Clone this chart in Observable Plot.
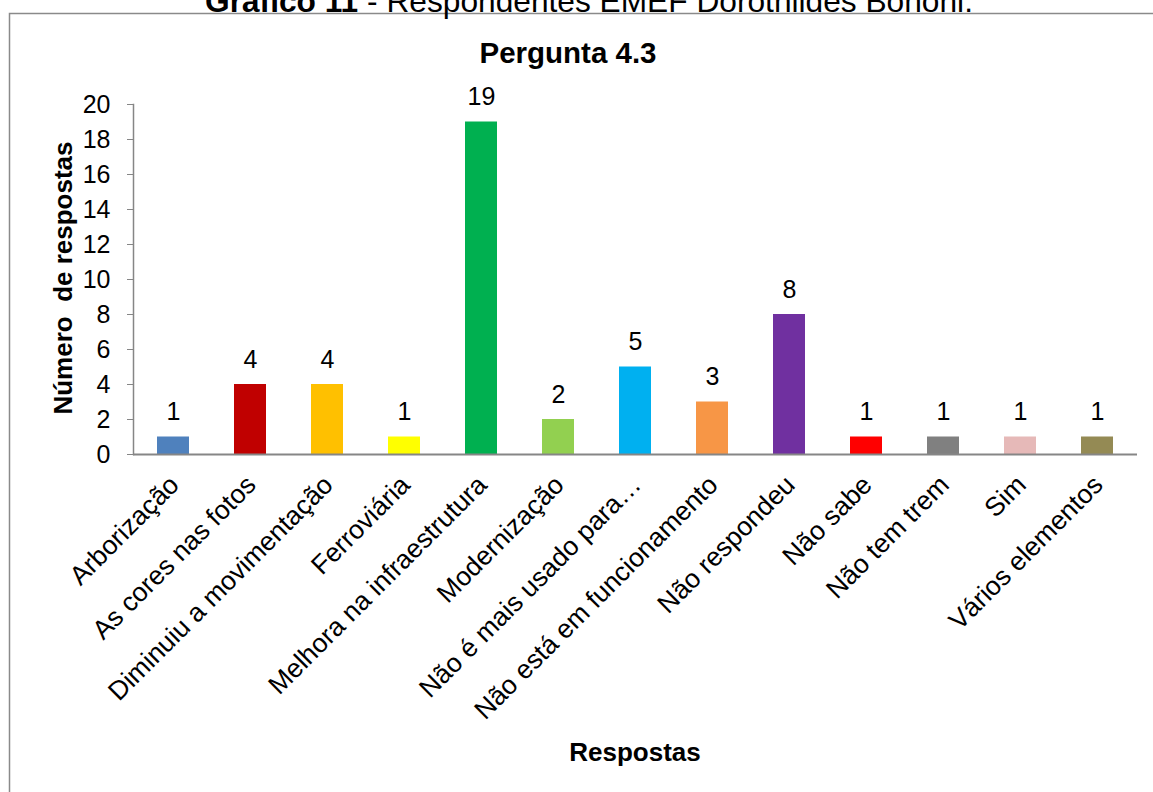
<!DOCTYPE html>
<html>
<head>
<meta charset="utf-8">
<script src="https://cdn.jsdelivr.net/npm/d3@7"></script>
<script src="https://cdn.jsdelivr.net/npm/@observablehq/plot@0.6"></script>
<style>
  html, body { margin: 0; padding: 0; background: #fff; }
  #chart svg { display: block; }
</style>
</head>
<body>
<div id="chart"></div>
<script>
const categories = [
  "Arborização", "As cores nas fotos", "Diminuiu a movimentação", "Ferroviária",
  "Melhora na infraestrutura", "Modernização", "Não é mais usado para…",
  "Não está em funcionamento", "Não respondeu", "Não sabe", "Não tem trem",
  "Sim", "Vários elementos"
];
const values = [1, 4, 4, 1, 19, 2, 5, 3, 8, 1, 1, 1, 1];
const colors = [
  "#4F81BD", "#C00000", "#FFC000", "#FFFF00", "#00B050", "#92D050", "#00B0F0",
  "#F79646", "#7030A0", "#FF0000", "#808080", "#E6B9B8", "#948A54"
];
const yTicks = [0, 2, 4, 6, 8, 10, 12, 14, 16, 18, 20];
const chartTitle = "Pergunta 4.3";
const figureLabel = "Gráfico 11";
const figureText = " - Respondentes EMEF Dorothildes Bononi.";
const yTitle = "Número  de respostas";
const xTitle = "Respostas";

const data = categories.map((c, i) => ({category: c, value: values[i], color: colors[i]}));

const W = 1153, H = 792;
const font = "'Liberation Sans', Arial, sans-serif";
const axisGray = "#868686";

const plot = Plot.plot({
  width: W,
  height: H,
  marginLeft: 133,
  marginRight: 16,
  marginTop: 104,
  marginBottom: 338,
  style: {fontFamily: font, fontSize: "25px", color: "#000", background: "#fff", overflow: "visible"},
  x: {domain: categories, paddingInner: 0.585, paddingOuter: 0.2925, label: null},
  y: {domain: [0, 20], label: null},
  marks: [
    Plot.barY(data, {x: "category", y: "value", fill: "color"}),
    Plot.ruleY([0], {stroke: axisGray, strokeWidth: 2}),
    Plot.frame({anchor: "left", stroke: axisGray, strokeWidth: 1.5}),
    Plot.axisY({ticks: yTicks, tickSize: 6, tickPadding: 17, stroke: axisGray, fontSize: 25, fill: "#000", tickFormat: d => String(d)}),
    Plot.axisX({tickSize: 0, tickRotate: -45, tickPadding: 26, dx: 1, fontSize: 26.5, fill: "#000"}),
    Plot.text(data, {x: "category", y: "value", text: d => String(d.value), dy: -17, lineAnchor: "bottom", fontSize: 25, fill: "#000"})
  ]
});

const svg = d3.select(plot);
// outer chart border (extends beyond the picture to the right and bottom)
svg.insert("rect", ":first-child")
  .attr("x", 9.5).attr("y", 13.5).attr("width", 1160).attr("height", 800)
  .attr("fill", "#fff").attr("stroke", "#8a8a8a").attr("stroke-width", 1.5);
svg.insert("rect", ":first-child")
  .attr("x", 0).attr("y", 0).attr("width", W).attr("height", H).attr("fill", "#fff");

// figure caption at the very top (clipped by the picture's top edge as in the source)
const cap = svg.append("text")
  .attr("x", 205).attr("y", 12)
  .attr("text-anchor", "start")
  .style("font-family", font).style("font-size", "31.7px").attr("fill", "#000");
cap.append("tspan").attr("font-weight", "bold").text(figureLabel);
cap.append("tspan").text(figureText);

svg.append("text")
  .attr("x", 568).attr("y", 63)
  .attr("text-anchor", "middle")
  .style("font-family", font).style("font-size", "29.5px").attr("font-weight", "bold")
  .attr("fill", "#000").text(chartTitle);

svg.append("text")
  .attr("transform", "translate(72,278) rotate(-90)")
  .attr("text-anchor", "middle")
  .style("font-family", font).style("font-size", "26px").attr("font-weight", "bold")
  .style("white-space", "pre")
  .attr("fill", "#000").text(yTitle);

svg.append("text")
  .attr("x", 635).attr("y", 761)
  .attr("text-anchor", "middle")
  .style("font-family", font).style("font-size", "26px").attr("font-weight", "bold")
  .attr("fill", "#000").text(xTitle);

document.getElementById("chart").appendChild(plot);
</script>
</body>
</html>
